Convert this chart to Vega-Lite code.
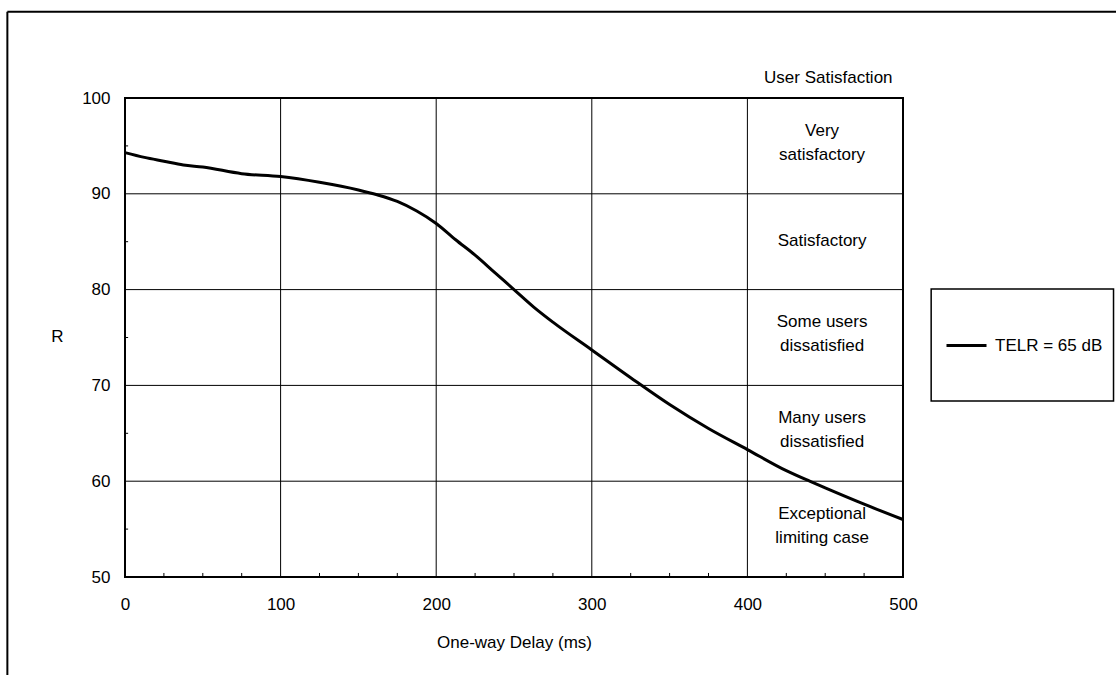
{
  "$schema": "https://vega.github.io/schema/vega-lite/v6.json",
  "width": 778,
  "height": 479,
  "autosize": {"type": "none"},
  "padding": {"left": 125, "top": 98, "right": 213, "bottom": 98},
  "background": "white",
  "config": {
    "font": "Liberation Sans",
    "view": {"stroke": "black", "strokeWidth": 2},
    "axis": {
      "domain": false,
      "ticks": false,
      "grid": false,
      "labelFlush": false,
      "labelFontSize": 17,
      "labelColor": "black",
      "titleFontSize": 17,
      "titleFontWeight": "normal",
      "titleColor": "black"
    }
  },
  "datasets": {
    "curve": [
      {"delay": 0, "R": 94.3, "series": "TELR = 65 dB"},
      {"delay": 12.5, "R": 93.8, "series": "TELR = 65 dB"},
      {"delay": 25, "R": 93.4, "series": "TELR = 65 dB"},
      {"delay": 37.5, "R": 93.0, "series": "TELR = 65 dB"},
      {"delay": 50, "R": 92.8, "series": "TELR = 65 dB"},
      {"delay": 75, "R": 92.1, "series": "TELR = 65 dB"},
      {"delay": 100, "R": 91.8, "series": "TELR = 65 dB"},
      {"delay": 125, "R": 91.2, "series": "TELR = 65 dB"},
      {"delay": 150, "R": 90.4, "series": "TELR = 65 dB"},
      {"delay": 162, "R": 89.9, "series": "TELR = 65 dB"},
      {"delay": 175, "R": 89.2, "series": "TELR = 65 dB"},
      {"delay": 187.5, "R": 88.2, "series": "TELR = 65 dB"},
      {"delay": 200, "R": 86.9, "series": "TELR = 65 dB"},
      {"delay": 212.5, "R": 85.2, "series": "TELR = 65 dB"},
      {"delay": 225, "R": 83.6, "series": "TELR = 65 dB"},
      {"delay": 237.5, "R": 81.8, "series": "TELR = 65 dB"},
      {"delay": 250, "R": 80.0, "series": "TELR = 65 dB"},
      {"delay": 262.5, "R": 78.2, "series": "TELR = 65 dB"},
      {"delay": 275, "R": 76.6, "series": "TELR = 65 dB"},
      {"delay": 300, "R": 73.7, "series": "TELR = 65 dB"},
      {"delay": 325, "R": 70.8, "series": "TELR = 65 dB"},
      {"delay": 350, "R": 68.0, "series": "TELR = 65 dB"},
      {"delay": 375, "R": 65.5, "series": "TELR = 65 dB"},
      {"delay": 400, "R": 63.3, "series": "TELR = 65 dB"},
      {"delay": 425, "R": 61.1, "series": "TELR = 65 dB"},
      {"delay": 440, "R": 60.0, "series": "TELR = 65 dB"},
      {"delay": 450, "R": 59.3, "series": "TELR = 65 dB"},
      {"delay": 475, "R": 57.6, "series": "TELR = 65 dB"},
      {"delay": 500, "R": 56.0, "series": "TELR = 65 dB"}
    ],
    "vgrid": [{"delay": 100}, {"delay": 200}, {"delay": 300}, {"delay": 400}],
    "hgrid": [{"R": 60}, {"R": 70}, {"R": 80}, {"R": 90}],
    "xminor": [
      {"delay": 25}, {"delay": 50}, {"delay": 75},
      {"delay": 125}, {"delay": 150}, {"delay": 175},
      {"delay": 225}, {"delay": 250}, {"delay": 275},
      {"delay": 325}, {"delay": 350}, {"delay": 375},
      {"delay": 425}, {"delay": 450}, {"delay": 475}
    ],
    "yminor": [{"R": 55}, {"R": 65}, {"R": 75}, {"R": 85}, {"R": 95}],
    "bands": [
      {"delay": 448, "R": 96.55, "label": "Very\nsatisfactory"},
      {"delay": 448, "R": 85.1, "label": "Satisfactory"},
      {"delay": 448, "R": 76.6, "label": "Some users\ndissatisfied"},
      {"delay": 448, "R": 66.6, "label": "Many users\ndissatisfied"},
      {"delay": 448, "R": 56.6, "label": "Exceptional\nlimiting case"},
      {"delay": 452, "R": 102.1, "label": "User Satisfaction"}
    ]
  },
  "layer": [
    {
      "data": {"name": "vgrid"},
      "mark": {"type": "rule", "color": "black", "strokeWidth": 1},
      "encoding": {
        "x": {"field": "delay", "type": "quantitative", "scale": {"domain": [0, 500], "nice": false}}
      }
    },
    {
      "data": {"name": "hgrid"},
      "mark": {"type": "rule", "color": "black", "strokeWidth": 1},
      "encoding": {
        "y": {"field": "R", "type": "quantitative", "scale": {"domain": [50, 100], "nice": false, "zero": false}}
      }
    },
    {
      "data": {"name": "xminor"},
      "mark": {"type": "rule", "color": "black", "strokeWidth": 1},
      "encoding": {
        "x": {"field": "delay", "type": "quantitative", "scale": {"domain": [0, 500], "nice": false}},
        "y": {"datum": 50, "type": "quantitative", "scale": {"domain": [50, 100], "nice": false, "zero": false}},
        "y2": {"datum": 50.42}
      }
    },
    {
      "data": {"name": "yminor"},
      "mark": {"type": "rule", "color": "black", "strokeWidth": 1},
      "encoding": {
        "y": {"field": "R", "type": "quantitative", "scale": {"domain": [50, 100], "nice": false, "zero": false}},
        "x": {"datum": 0, "type": "quantitative", "scale": {"domain": [0, 500], "nice": false}},
        "x2": {"datum": 2}
      }
    },
    {
      "data": {"values": [{}]},
      "mark": {"type": "rule", "color": "black", "strokeWidth": 2, "clip": false},
      "encoding": {
        "x": {"datum": -75.6, "type": "quantitative", "scale": {"domain": [0, 500], "nice": false}},
        "y": {"datum": 109.0, "type": "quantitative", "scale": {"domain": [50, 100], "nice": false, "zero": false}},
        "y2": {"datum": 38}
      }
    },
    {
      "data": {"values": [{}]},
      "mark": {"type": "rule", "color": "black", "strokeWidth": 2, "clip": false},
      "encoding": {
        "y": {"datum": 109.0, "type": "quantitative", "scale": {"domain": [50, 100], "nice": false, "zero": false}},
        "x": {"datum": -75.6, "type": "quantitative", "scale": {"domain": [0, 500], "nice": false}},
        "x2": {"datum": 650}
      }
    },
    {
      "data": {"values": [{}]},
      "mark": {"type": "rect", "fill": "white", "stroke": "black", "strokeWidth": 1.5, "clip": false},
      "encoding": {
        "x": {"datum": 518.1, "type": "quantitative", "scale": {"domain": [0, 500], "nice": false}},
        "x2": {"datum": 635.3},
        "y": {"datum": 80.06, "type": "quantitative", "scale": {"domain": [50, 100], "nice": false, "zero": false}},
        "y2": {"datum": 68.37}
      }
    },
    {
      "data": {"name": "bands"},
      "mark": {"type": "text", "fontSize": 17, "color": "black", "align": "center", "baseline": "middle", "lineBreak": "\n", "lineHeight": 24, "clip": false},
      "encoding": {
        "x": {"field": "delay", "type": "quantitative", "scale": {"domain": [0, 500], "nice": false}},
        "y": {"field": "R", "type": "quantitative", "scale": {"domain": [50, 100], "nice": false, "zero": false}},
        "text": {"field": "label"}
      }
    },
    {
      "data": {"name": "curve"},
      "mark": {"type": "line", "interpolate": "monotone", "strokeWidth": 3},
      "encoding": {
        "x": {
          "field": "delay",
          "type": "quantitative",
          "scale": {"domain": [0, 500], "nice": false},
          "axis": {
            "title": "One-way Delay (ms)",
            "values": [0, 100, 200, 300, 400, 500],
            "labelPadding": 27,
            "labelBaseline": "middle",
            "titleY": 65,
            "titleBaseline": "middle"
          }
        },
        "y": {
          "field": "R",
          "type": "quantitative",
          "scale": {"domain": [50, 100], "nice": false, "zero": false},
          "axis": {
            "title": "R",
            "values": [50, 60, 70, 80, 90, 100],
            "labelPadding": 15,
            "titleAngle": 0,
            "titleAlign": "center",
            "titleBaseline": "middle",
            "titleX": -68,
            "titleY": 238
          }
        },
        "color": {
          "field": "series",
          "type": "nominal",
          "scale": {"range": ["black"]},
          "legend": {
            "title": null,
            "orient": "none",
            "legendX": 820,
            "legendY": 226,
            "padding": 0,
            "symbolType": "stroke",
            "symbolSize": 1600,
            "symbolStrokeWidth": 3,
            "labelFontSize": 17,
            "labelColor": "black",
            "labelOffset": 7
          }
        }
      }
    }
  ]
}
